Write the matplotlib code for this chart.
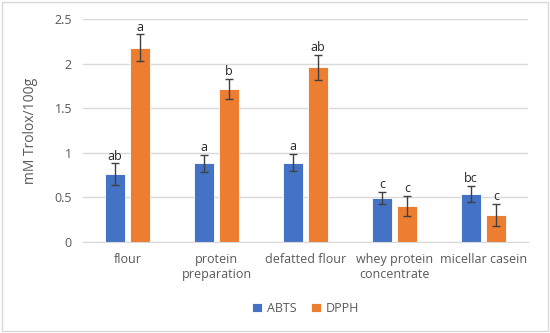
import matplotlib.pyplot as plt
import numpy as np
from matplotlib.patches import Rectangle

categories = ['flour', 'protein\npreparation', 'defatted flour', 'whey protein\nconcentrate', 'micellar casein']
abts = [0.76, 0.88, 0.89, 0.49, 0.54]
abts_err = [0.12, 0.10, 0.10, 0.07, 0.09]
abts_letters = ['ab', 'a', 'a', 'c', 'bc']
dpph = [2.18, 1.72, 1.96, 0.40, 0.30]
dpph_err = [0.15, 0.11, 0.14, 0.11, 0.12]
dpph_letters = ['a', 'b', 'ab', 'c', 'c']

plt.rcParams['font.family'] = ['Open Sans', 'DejaVu Sans']
txt = '#595959'

fig = plt.figure(figsize=(5.5, 3.33), dpi=100)
ax = fig.add_axes([0.151, 0.274, 0.809, 0.668])

x = np.arange(len(categories))
w = 0.225
off = 0.14
ebar = dict(ecolor='#404040', elinewidth=1, capsize=3, capthick=1)
ax.bar(x - off, abts, w, yerr=abts_err, color='#4472C4', edgecolor='white', linewidth=0.6,
       label='ABTS', error_kw=ebar, zorder=2)
ax.bar(x + off, dpph, w, yerr=dpph_err, color='#ED7D31', edgecolor='white', linewidth=0.6,
       label='DPPH', error_kw=ebar, zorder=2)

# significance letters above the error bars
for i in range(len(categories)):
    ax.text(x[i] - off, abts[i] + abts_err[i] + 0.01, abts_letters[i], ha='center', va='bottom',
            fontsize=9, color='#262626')
    ax.text(x[i] + off, dpph[i] + dpph_err[i] + 0.01, dpph_letters[i], ha='center', va='bottom',
            fontsize=9, color='#262626')

ax.set_ylim(0, 2.5)
ax.set_xlim(-0.5, len(categories) - 0.5)
ax.set_yticks([0, 0.5, 1, 1.5, 2, 2.5])
ax.set_yticklabels(['0', '0.5', '1', '1.5', '2', '2.5'])
ax.set_xticks(x)
ax.set_xticklabels(categories)
ax.tick_params(axis='both', length=0, labelsize=9, colors=txt, pad=8)
ax.grid(axis='y', color='#D9D9D9', linewidth=1, zorder=0)
ax.set_axisbelow(True)
for s in ['top', 'right', 'left']:
    ax.spines[s].set_visible(False)
ax.spines['bottom'].set_color('#D9D9D9')
ax.set_ylabel('mM Trolox/100g', fontsize=10, color=txt, labelpad=12)

ax.legend(loc='upper center', bbox_to_anchor=(0.5, -0.22), ncol=2, frameon=False,
          fontsize=9, labelcolor=txt, handlelength=0.8, handleheight=0.8, columnspacing=1.2,
          handletextpad=0.4)

fig.patches.append(Rectangle((0.003, 0.005), 0.994, 0.99, transform=fig.transFigure,
                             fill=False, edgecolor='#D9D9D9', linewidth=1))

fig.savefig('out.png', dpi=100)
